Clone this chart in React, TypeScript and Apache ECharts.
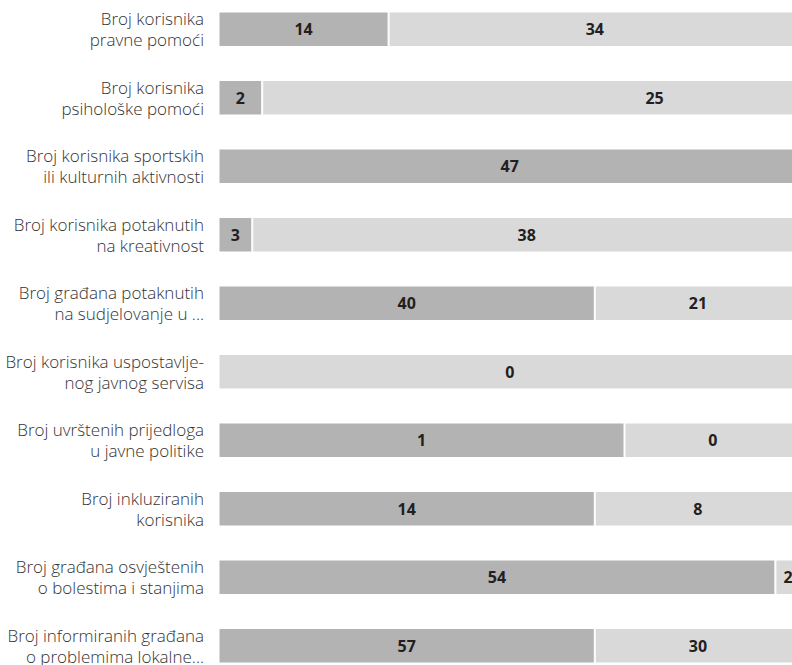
import React, { useEffect, useRef } from "react";
import * as echarts from "echarts";

// Category labels (top to bottom)
const categories: string[] = [
  "Broj korisnika\npravne pomoći",
  "Broj korisnika\npsihološke pomoći",
  "Broj korisnika sportskih\nili kulturnih aktivnosti",
  "Broj korisnika potaknutih\nna kreativnost",
  "Broj građana potaknutih\nna sudjelovanje u ...",
  "Broj korisnika uspostavlje-\nnog javnog servisa",
  "Broj uvrštenih prijedloga\nu javne politike",
  "Broj inkluziranih\nkorisnika",
  "Broj građana osvještenih\no bolestima i stanjima",
  "Broj informiranih građana\no problemima lokalne...",
];

// Share of each bar (percent of full width)
const darkShare: number[] = [29.2, 7.5, 100, 5.8, 64.6, 0, 69.7, 64.6, 95.6, 64.6];
const lightShare: number[] = [70.8, 92.5, 0, 94.2, 35.4, 100, 30.3, 35.4, 4.4, 35.4];

// Numbers printed on the segments
const darkLabels: (number | null)[] = [14, 2, 47, 3, 40, null, 1, 14, 54, 57];
const lightLabels: (number | null)[] = [34, 25, null, 38, 21, 0, 0, 8, 2, 30];

const DARK = "#b3b3b3";
const LIGHT = "#d9d9d9";

// label nudges reproducing the reference's placement
const lightLabelShift: Record<number, number> = { 1: 123 };

export default function App() {
  const ref = useRef<HTMLDivElement>(null);

  useEffect(() => {
    if (!ref.current) return;
    const chart = echarts.init(ref.current, null, { renderer: "svg" });

    const labelStyle = {
      show: true,
      position: "inside" as const,
      color: "#231f20",
      fontFamily: "'Open Sans', sans-serif",
      fontWeight: "bold" as const,
      fontSize: 16,
    };

    const makeData = (shares: number[], labels: (number | null)[], shift?: Record<number, number>) =>
      shares.map((v, i) => {
        const item: any = { value: v };
        if (labels[i] === null || v === 0) {
          item.label = { show: false };
        } else if (shift && shift[i]) {
          item.label = { offset: [shift[i], 0] };
        }
        return item;
      });

    chart.setOption({
      animation: false,
      grid: { left: 218.5, right: 0, top: 0, bottom: 0, containLabel: false },
      xAxis: {
        type: "value",
        min: 0,
        max: 100,
        show: false,
      },
      yAxis: {
        type: "category",
        inverse: true,
        data: categories,
        axisLine: { show: false },
        axisTick: { show: false },
        splitLine: { show: false },
        axisLabel: {
          margin: 14.5,
          align: "right",
          color: "#333333",
          fontFamily: "'Open Sans', sans-serif",
          fontWeight: 300,
          fontSize: 17,
          lineHeight: 21,
        },
      },
      series: [
        {
          name: "dark",
          type: "bar",
          stack: "total",
          barWidth: 35.5,
          itemStyle: { color: DARK, borderColor: "#ffffff", borderWidth: 1 },
          label: {
            ...labelStyle,
            formatter: (p: any) => String(darkLabels[p.dataIndex] ?? ""),
          },
          data: makeData(darkShare, darkLabels),
        },
        {
          name: "light",
          type: "bar",
          stack: "total",
          barWidth: 35.5,
          itemStyle: { color: LIGHT, borderColor: "#ffffff", borderWidth: 1 },
          label: {
            ...labelStyle,
            formatter: (p: any) => String(lightLabels[p.dataIndex] ?? ""),
          },
          data: makeData(lightShare, lightLabels, lightLabelShift),
        },
      ],
    });

    return () => chart.dispose();
  }, []);

  return (
    <div
      style={{
        position: "absolute",
        left: 0,
        top: 0,
        width: 792,
        height: 665,
        overflow: "hidden",
        background: "#ffffff",
      }}
    >
      <div
        ref={ref}
        style={{ position: "absolute", left: 0, top: -4.6, width: 800.5, height: 684.6 }}
      />
    </div>
  );
}
